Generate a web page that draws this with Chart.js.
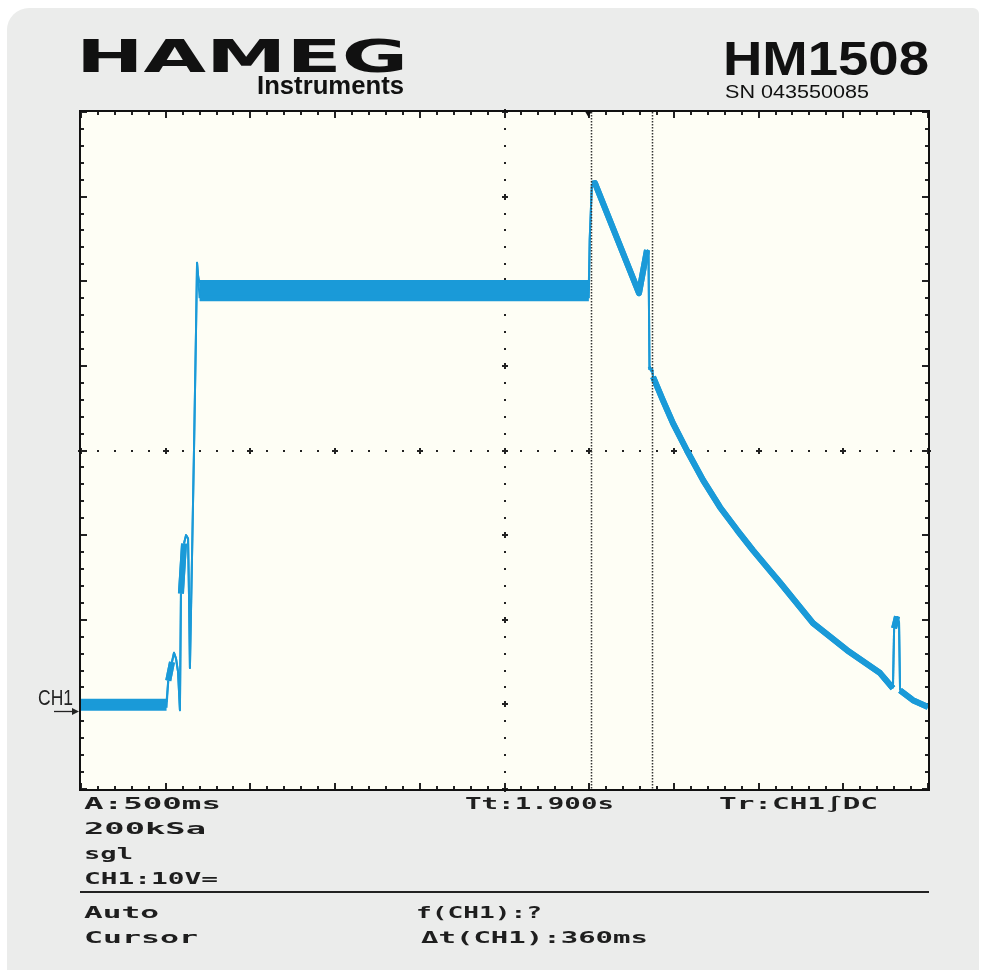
<!DOCTYPE html>
<html>
<head>
<meta charset="utf-8">
<script src="https://cdn.jsdelivr.net/npm/chart.js@4/dist/chart.umd.min.js"></script>
<style>
html, body { margin: 0; padding: 0; background: #fff; width: 981px; height: 970px; overflow: hidden; }
#panel { position: absolute; left: 7px; top: 8px; width: 972px; height: 970px; background: #ebeceb;
  border-top-left-radius: 22px; border-top-right-radius: 6px; }
#c { position: absolute; left: 0; top: 0; }
.t { position: absolute; top: 0; white-space: nowrap; line-height: 1; transform-origin: 0 0; color: #111; }
.lcd { font-family: "DejaVu Sans Mono"; font-weight: bold; font-size: 15px; color: #1e1e1e; }
</style>
</head>
<body>
<div id="panel"></div>
<canvas id="c" width="981" height="970"></canvas>

<div class="t" data-w="332" data-b="72" style="left:76px;font:bold 44px 'DejaVu Sans';">HAMEG</div>
<div class="t" data-w="147" data-b="94" style="left:257px;font:bold 25px 'Liberation Sans';">Instruments</div>
<div class="t" data-w="206" data-b="75" style="left:723px;font:bold 48px 'Liberation Sans';">HM1508</div>
<div class="t" data-w="144" data-b="98" style="left:725px;font:18px 'Liberation Sans';">SN 043550085</div>
<div class="t" data-w="35" data-b="705" style="left:38px;font:22px 'Liberation Sans';color:#222;">CH1</div>

<div class="t lcd" data-w="137" data-b="808.5" style="left:84px;">A:500ms</div>
<div class="t lcd" data-w="149" data-b="808.5" style="left:465px;">Tt:1.900s</div>
<div class="t lcd" data-w="159" data-b="808.5" style="left:719px;">Tr:CH1∫DC</div>
<div class="t lcd" data-w="122" data-b="833.5" style="left:84px;">200kSa</div>
<div class="t lcd" data-w="49" data-b="858.5" style="left:84px;">sgl</div>
<div class="t lcd" data-w="134" data-b="883.5" style="left:84px;">CH1:10V=</div>
<div class="t lcd" data-w="75" data-b="918" style="left:84px;">Auto</div>
<div class="t lcd" data-w="114" data-b="943" style="left:84px;">Cursor</div>
<div class="t lcd" data-w="126" data-b="918" style="left:416px;">f(CH1):?</div>
<div class="t lcd" data-w="227" data-b="943" style="left:421px;">Δt(CH1):360ms</div>

<script>
// time (s) and voltage (V), hi/lo = edges of the noisy band
const tVals = [0.000, 0.505, 0.515, 0.537, 0.549, 0.561, 0.573, 0.584, 0.590, 0.608, 0.620, 0.632, 0.638, 0.643,
  0.655, 0.667, 0.679, 0.685, 0.691, 0.700, 2.998, 3.003, 3.016, 3.034, 3.294, 3.341, 3.350, 3.356, 3.371, 3.377,
  3.436, 3.495, 3.577, 3.672, 3.772, 3.873, 3.967, 4.067, 4.126, 4.321, 4.522, 4.717, 4.793, 4.800, 4.817, 4.829,
  4.835, 4.911, 5.000];
const vHi = [0.3, 0.3, 2.8, 5.0, 6.1, 5.4, 3.8, -0.7, 13.1, 19.0, 20.0, 19.6, 12.3, 4.3,
  17.0, 30.0, 44.2, 52.2, 50.7, 49.8, 49.8, 55.0, 61.5, 61.6, 48.6, 53.7, 53.5, 39.5, 39.7, 38.7,
  35.9, 33.2, 30.0, 26.5, 23.3, 20.6, 18.2, 15.8, 14.4, 9.6, 6.4, 3.7, 1.9, 9.0, 10.4, 9.7,
  1.65, 0.5, -0.3];
const vLo = [-0.4, -0.4, 2.8, 5.0, 6.1, 5.4, 3.8, -0.7, 13.1, 19.0, 20.0, 19.6, 12.3, 4.3,
  17.0, 30.0, 44.2, 52.2, 50.7, 48.0, 48.0, 55.0, 61.5, 61.6, 48.6, 53.7, 53.5, 39.5, 39.7, 38.7,
  35.9, 33.2, 30.0, 26.5, 23.3, 20.6, 18.2, 15.8, 14.4, 9.6, 6.4, 3.7, 1.9, 9.0, 10.4, 9.7,
  1.65, 0.5, -0.3];

const xRange = [0, 5];      // 500 ms / div, 10 div
const yRange = [-10, 70];   // 10 V / div, 8 div
const xDiv = 0.5, yDiv = 10;
const cursors = [3.01, 3.37];
const trigger = 2.995;
const groundMark = -0.8;

const blue = '#1a9ad8';
const thin = c => Math.abs(c.p1.x - c.p0.x) < 2.5 ? 2 : 6;

function pts(v) {
  return tVals.map((t, i) => ({ x: t, y: v[i] }));
}

// graticule, frame, cursors
const scope = {
  id: 'scope',
  beforeDatasetsDraw(chart) {
    const { ctx, chartArea: a, scales: { x, y } } = chart;
    ctx.save();
    ctx.fillStyle = '#fefef5';
    ctx.fillRect(a.left, a.top, a.width, a.height);
    ctx.fillStyle = '#222';
    const cx = Math.round(x.getPixelForValue((xRange[0] + xRange[1]) / 2));
    const cy = Math.round(y.getPixelForValue((yRange[0] + yRange[1]) / 2));
    for (let i = 0; i <= 50; i++) {
      const px = Math.round(x.getPixelForValue(xRange[0] + i * xDiv / 5));
      if (i % 5 === 0) {
        ctx.fillRect(px - 3, cy - 1, 6, 2);
        ctx.fillRect(px - 1, cy - 3, 2, 6);
      } else {
        ctx.fillRect(px - 1, cy - 1, 2, 2);
      }
      // top and bottom edge ticks
      const len = i % 5 === 0 ? 6 : 3;
      ctx.fillRect(px - 1, a.top, 2, len);
      ctx.fillRect(px - 1, a.bottom - len, 2, len);
    }
    for (let i = 0; i <= 40; i++) {
      const py = Math.round(y.getPixelForValue(yRange[0] + i * yDiv / 5));
      if (i % 5 === 0) {
        ctx.fillRect(cx - 3, py - 1, 6, 2);
        ctx.fillRect(cx - 1, py - 3, 2, 6);
      } else {
        ctx.fillRect(cx - 1, py - 1, 2, 2);
      }
      const len = i % 5 === 0 ? 6 : 3;
      ctx.fillRect(a.left, py - 1, len, 2);
      ctx.fillRect(a.right - len, py - 1, len, 2);
    }
    ctx.restore();
  },
  afterDatasetsDraw(chart) {
    const { ctx, chartArea: a, scales: { x, y } } = chart;
    ctx.save();
    ctx.strokeStyle = '#333';
    ctx.lineWidth = 1.5;
    ctx.setLineDash([1.5, 1.5]);
    cursors.forEach(c => {
      const px = Math.round(x.getPixelForValue(c)) + 0.5;
      ctx.beginPath();
      ctx.moveTo(px, a.top);
      ctx.lineTo(px, a.bottom);
      ctx.stroke();
    });
    ctx.setLineDash([]);
    ctx.strokeStyle = '#111';
    ctx.lineWidth = 2;
    ctx.strokeRect(a.left - 1, a.top - 1, a.width + 2, a.height + 2);
    // trigger marker
    const tx = x.getPixelForValue(trigger);
    ctx.fillStyle = '#111';
    ctx.beginPath();
    ctx.moveTo(tx - 3, a.top);
    ctx.lineTo(tx + 3, a.top);
    ctx.lineTo(tx, a.top + 5);
    ctx.fill();
    // ground arrow
    const gy = Math.round(y.getPixelForValue(groundMark)) + 0.5;
    ctx.strokeStyle = '#222';
    ctx.lineWidth = 1.3;
    ctx.beginPath();
    ctx.moveTo(54, gy);
    ctx.lineTo(75, gy);
    ctx.stroke();
    ctx.fillStyle = '#222';
    ctx.beginPath();
    ctx.moveTo(79, gy);
    ctx.lineTo(72, gy - 3.5);
    ctx.lineTo(72, gy + 3.5);
    ctx.fill();
    // separator under the settings block
    ctx.fillRect(80, 891, 849, 2);
    ctx.restore();
  }
};

new Chart(document.getElementById('c'), {
  type: 'line',
  data: {
    datasets: [{
      label: 'CH1 hi',
      data: pts(vHi),
      borderColor: blue,
      borderWidth: 6,
      borderJoinStyle: 'round',
      pointRadius: 0,
      fill: false,
      segment: { borderWidth: thin }
    }, {
      label: 'CH1 lo',
      data: pts(vLo),
      borderColor: blue,
      backgroundColor: blue,
      borderWidth: 6,
      borderJoinStyle: 'round',
      pointRadius: 0,
      fill: '-1',
      segment: { borderWidth: thin }
    }]
  },
  options: {
    responsive: false,
    animation: false,
    layout: { padding: { left: 81, top: 112, right: 53, bottom: 181 } },
    plugins: { legend: { display: false }, tooltip: { enabled: false } },
    scales: {
      x: { type: 'linear', min: xRange[0], max: xRange[1], display: false },
      y: { type: 'linear', min: yRange[0], max: yRange[1], display: false }
    }
  },
  plugins: [scope]
});

// put each label on its baseline and stretch it to the width it has on the print
document.querySelectorAll('.t[data-w]').forEach(el => {
  const w = el.getBoundingClientRect().width;
  const m = document.createElement('span');
  m.style.cssText = 'display:inline-block;width:0;height:0;vertical-align:baseline';
  el.appendChild(m);
  const base = m.getBoundingClientRect().top;
  el.style.top = (parseFloat(el.dataset.b) - base) + 'px';
  el.style.transform = 'scaleX(' + (parseFloat(el.dataset.w) / w) + ')';
});
</script>
</body>
</html>
